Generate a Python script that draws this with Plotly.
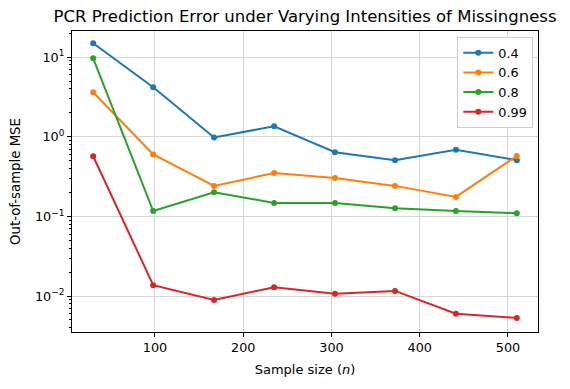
import plotly.graph_objects as go

# ================================
# Dados
# ================================
sample_size = [30, 98, 167, 235, 304, 372, 441, 510]

mse_04 = [15.0, 4.2, 0.98, 1.36, 0.64, 0.51, 0.69, 0.51]
mse_06 = [3.63, 0.60, 0.242, 0.351, 0.305, 0.242, 0.176, 0.575]
mse_08 = [9.7, 0.117, 0.201, 0.148, 0.147, 0.127, 0.117, 0.110]
mse_099 = [0.57, 0.0137, 0.0089, 0.0129, 0.0107, 0.0116, 0.0060, 0.0053]

series_names = ["0.4", "0.6", "0.8", "0.99"]
series_colors = ["#1f77b4", "#ff7f0e", "#2ca02c", "#d62728"]

y_tickvals = [0.01, 0.1, 1, 10]
y_ticktext = ["10<sup>\u22122</sup>", "10<sup>\u22121</sup>", "10<sup>0</sup>", "10<sup>1</sup>"]
x_tickvals = [100, 200, 300, 400, 500]

# ================================
# Figura
# ================================
fig = go.Figure()
for nome, valores, cor in zip(series_names, [mse_04, mse_06, mse_08, mse_099], series_colors):
    fig.add_trace(go.Scatter(x=sample_size, y=valores, name=nome, mode="lines+markers",
                             line=dict(color=cor, width=2),
                             marker=dict(color=cor, size=6)))

eixo = dict(showline=True, linecolor="black", linewidth=1, mirror=True,
            ticks="outside", ticklen=4, tickcolor="black", automargin=False,
            showgrid=True, gridcolor="#d6d6d6", gridwidth=1, zeroline=False,
            tickfont=dict(size=12.8, color="black"))

# o body da página tem margem de 8px, então a figura é um pouco menor que a janela
fig.update_layout(
    width=562, height=373,
    margin=dict(l=64, r=32, t=23, b=49),
    plot_bgcolor="white", paper_bgcolor="white",
    font=dict(family="DejaVu Sans", color="black"),
    title=dict(text="PCR Prediction Error under Varying Intensities of Missingness",
               x=(64 + 530) / 2 / 562, xanchor="center", y=1 - 8 / 373, yanchor="middle",
               font=dict(size=16.5)),
    xaxis=dict(eixo, range=[6, 534], tickvals=x_tickvals,
               title=dict(text="Sample size (<i>n</i>)", font=dict(size=13), standoff=10)),
    yaxis=dict(eixo, type="log", range=[-2.452, 1.33],
               tickvals=y_tickvals, ticktext=y_ticktext,
               minor=dict(ticks="outside", ticklen=2, tickcolor="black", dtick="D1", showgrid=False),
               title=dict(text="Out-of-sample MSE", font=dict(size=13.3), standoff=12)),
    legend=dict(x=0.99, y=0.98, xanchor="right", yanchor="top",
                bgcolor="white", bordercolor="#cccccc", borderwidth=1,
                font=dict(size=12.8)),
)

fig.write_html("out.html")
